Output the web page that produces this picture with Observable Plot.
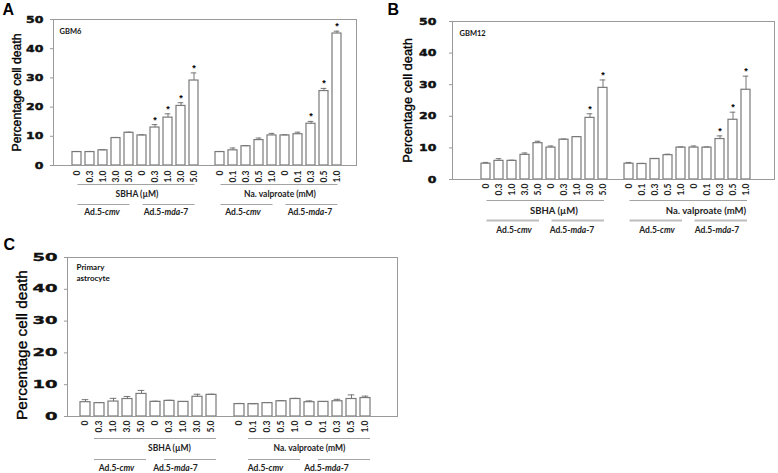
<!DOCTYPE html>
<html><head><meta charset="utf-8">
<script src="https://cdn.jsdelivr.net/npm/d3@7"></script>
<script src="https://cdn.jsdelivr.net/npm/@observablehq/plot@0.6"></script>
<style>
html,body{margin:0;padding:0;background:#fff;}
#fig{position:relative;width:778px;height:473px;overflow:hidden;background:#fff;}
.panel{position:absolute;}
</style></head><body><div id="fig"></div>
<script>
// ---- data ----
const drugs = ["SBHA (µM)", "Na. valproate (mM)"];
const vectors = ["Ad.5-cmv", "Ad.5-mda-7"];
const sbhaDoses = ["0", "0.3", "1.0", "3.0", "5.0"];
const valproateDoses = ["0", "0.1", "0.3", "0.5", "1.0"];
const yTicks = [0, 10, 20, 30, 40, 50];
const yTitle = "Percentage cell death";
// order: SBHA/cmv, SBHA/mda-7, valproate/cmv, valproate/mda-7 (5 doses each)
const gbm6Mean = [4.6, 4.6, 5.2, 9.4, 11.2, 10.3, 13.0, 16.4, 20.4, 29.1,
                  4.6, 5.2, 6.6, 8.7, 10.3, 10.3, 10.7, 14.3, 25.5, 45.2];
const gbm6Err  = [0.2, 0.2, 0.2, 0.2, 0.2, 0.2, 1.0, 1.3, 1.1, 2.6,
                  0.2, 0.8, 0.2, 0.7, 0.7, 0.2, 0.7, 0.8, 0.9, 0.8];
const gbm6Sig  = [0, 0, 0, 0, 0, 0, 1, 1, 1, 1,
                  0, 0, 0, 0, 0, 0, 0, 1, 1, 1];
const gbm12Mean = [5.0, 5.9, 5.9, 7.8, 11.5, 10.1, 12.6, 13.4, 19.5, 29.0,
                   5.0, 4.9, 6.5, 7.7, 10.1, 10.1, 10.1, 12.8, 18.9, 28.4];
const gbm12Err  = [0.4, 0.7, 0.2, 0.6, 0.6, 0.5, 0.2, 0.2, 1.3, 2.5,
                   0.4, 0.2, 0.1, 0.3, 0.2, 0.5, 0.2, 1.0, 2.4, 4.3];
const gbm12Sig  = [0, 0, 0, 0, 0, 0, 0, 0, 1, 1,
                   0, 0, 0, 0, 0, 0, 0, 1, 1, 1];
const astroMean = [4.5, 4.2, 4.7, 5.5, 7.1, 4.6, 4.9, 4.6, 6.2, 6.8,
                   3.9, 3.9, 4.2, 4.8, 5.5, 4.5, 4.6, 4.8, 5.5, 5.8];
const astroErr  = [0.8, 0.2, 1.0, 0.8, 1.1, 0.2, 0.2, 0.1, 0.8, 0.2,
                   0.2, 0.1, 0.2, 0.2, 0.2, 0.4, 0.1, 0.6, 1.3, 0.6];
const astroSig  = new Array(20).fill(0);

function buildRows(mean, err, sig) {
  const out = [];
  let k = 0;
  drugs.forEach((drug, g) => {
    const doses = g === 0 ? sbhaDoses : valproateDoses;
    vectors.forEach((vec, v) => {
      doses.forEach((dose, d) => {
        out.push({slot: g * 11 + v * 5 + d, drug, vector: vec, dose,
                  mean: mean[k], err: err[k], sig: !!sig[k]});
        k++;
      });
    });
  });
  return out;
}

// ---- layout (positions / styles) ----
const panels = [
  {data: buildRows(gbm6Mean, gbm6Err, gbm6Sig), name: "GBM6", letter: "A",
   left: 0, top: 0, width: 385, height: 235, mt: 19, mr: 29, mb: 70, ml: 53,
   po: 1.2, align: 0.55, tickFont: 12.5, tickPad: 7, squish: 0.75,
   titleSize: 12.2, titleDx: -36, titleDy: 0, letterDx: -51, letterDy: -16,
   nameDx: 6, nameDy: 7, nameSize: 7.5,
   catDy: 5, line1Dy: 19, drugDy: 29, line2Dy: 39, vecDy: 47, drugSize: 8.5, vecSize: 8.5,
   drugPos: [[5, -5], [15, 8]], vecPos: [[2, -1], [7, -2], [13, -3], [18, -1]],
   insL: 5.5, insR: 3.5, line2Color: "#8c8c8c", line2Width: 0.8},
  {data: buildRows(gbm12Mean, gbm12Err, gbm12Sig), name: "GBM12", letter: "B",
   left: 385, top: 0, width: 393, height: 240, mt: 21, mr: 4, mb: 61, ml: 67,
   po: 1.2, align: 0.55, tickFont: 12.5, tickPad: 13, squish: 0.75,
   titleSize: 12.9, titleDx: -45, titleDy: 0, letterDx: -65, letterDy: -18,
   nameDx: 7, nameDy: 7, nameSize: 7.5,
   catDy: 4, line1Dy: 21, drugDy: 31, line2Dy: 41, vecDy: 51, drugSize: 9.5, vecSize: 8.5,
   drugPos: [[5, 3], [16, 12]], vecPos: [[2, 2], [7, -5], [13, 2], [18, -3]],
   insL: 5.5, insR: 3, line2Color: "#bdbdbd", line2Width: 2},
  {data: buildRows(astroMean, astroErr, astroSig), name: "Primary\nastrocyte", letter: "C",
   left: 0, top: 235, width: 410, height: 238, mt: 22, mr: 13, mb: 57, ml: 67,
   po: 0.685, align: 0.33, tickFont: 18, tickPad: 7, squish: 0.55,
   titleSize: 15.5, titleDx: -45, titleDy: 8, letterDx: -64, letterDy: -19,
   nameDx: 9, nameDy: 5, nameSize: 8,
   catDy: 4, line1Dy: 22, drugDy: 32, line2Dy: 43, vecDy: 52, drugSize: 8.5, vecSize: 8.5,
   drugPos: [[6, 0], [16, 0]], vecPos: [[2, 3], [7, -8], [13, -2], [17, 3]],
   insL: 14, insR: 0, line2Color: "#8c8c8c", line2Width: 0.8}
];

const LAB = "Lato";
const fig = document.getElementById("fig");

function draw(c) {
  const data = c.data;
  const top = d => d.mean + d.err;
  const groupLines = [{a: 0, b: 9}, {a: 11, b: 20}];
  const vecLines = [{a: 0, b: 4}, {a: 5, b: 9}, {a: 11, b: 15}, {a: 16, b: 20}];
  const vecNames = [vectors[0], vectors[1], vectors[0], vectors[1]];
  const marks = [
    Plot.barY(data, {x: "slot", y: "mean", fill: "white", stroke: "#7a7a7a", strokeWidth: 1.2}),
    Plot.ruleX(data, {x: "slot", y1: "mean", y2: top, stroke: "#777", strokeWidth: 1}),
    Plot.tickY(data, {x: "slot", y: top, stroke: "#777", strokeWidth: 1, insetLeft: 1.7, insetRight: 1.7}),
    Plot.text(data.filter(d => d.sig), {x: "slot", y: top, text: () => "*", dy: -5,
      fontSize: 9, fontWeight: "bold", fontFamily: "Liberation Sans", fill: "#000"}),
    Plot.frame({stroke: "#9a9a9a", strokeWidth: 1}),
    // dose labels
    Plot.text(data, {x: "slot", text: "dose", frameAnchor: "bottom", rotate: -90,
      textAnchor: "end", lineAnchor: "middle", dy: c.catDy,
      fontFamily: LAB, fontWeight: "bold", fontSize: 8.5, fill: "#222"}),
    // group lines
    Plot.ruleY(groupLines, {x1: "a", x2: "b", y: () => 0, dy: c.line1Dy,
      insetLeft: c.insL, insetRight: c.insR, stroke: "#8c8c8c", strokeWidth: 0.8}),
    Plot.ruleY(vecLines, {x1: "a", x2: "b", y: () => 0, dy: c.line2Dy,
      insetLeft: c.insL, insetRight: c.insR, stroke: c.line2Color, strokeWidth: c.line2Width}),
    // y title
    Plot.text([yTitle], {frameAnchor: "left", dx: c.titleDx, dy: c.titleDy, rotate: -90,
      textAnchor: "middle", lineAnchor: "middle",
      fontFamily: "Liberation Sans", fontSize: c.titleSize, fontWeight: "normal", fill: "#000",
      stroke: "#000", strokeWidth: 0.35, ariaLabel: "ytitle"}),
    // panel letter
    Plot.text([c.letter], {frameAnchor: "top-left", dx: c.letterDx, dy: c.letterDy,
      textAnchor: "start", lineAnchor: "top", fontFamily: "Liberation Sans",
      fontSize: 16, fontWeight: "bold", fill: "#000"}),
    // cell line name
    Plot.text([c.name], {frameAnchor: "top-left", dx: c.nameDx, dy: c.nameDy,
      textAnchor: "start", lineAnchor: "top", lineHeight: 1.35, fontFamily: LAB,
      fontSize: c.nameSize, fontWeight: "bold", fill: "#111"})
  ];
  drugs.forEach((dr, i) => {
    marks.push(Plot.text([{slot: c.drugPos[i][0], label: dr}], {x: "slot", text: "label",
      frameAnchor: "bottom", dx: c.drugPos[i][1], dy: c.drugDy, lineAnchor: "middle",
      fontFamily: LAB, fontWeight: "bold", fontSize: c.drugSize, fill: "#222"}));
  });
  vecNames.forEach((vn, i) => {
    marks.push(Plot.text([{slot: c.vecPos[i][0], label: vn}], {x: "slot", text: "label",
      frameAnchor: "bottom", dx: c.vecPos[i][1], dy: c.vecDy, lineAnchor: "middle",
      fontFamily: LAB, fontWeight: "bold", fontSize: c.vecSize, fill: "#222"}));
  });

  const svg = Plot.plot({
    width: c.width, height: c.height,
    marginTop: c.mt, marginRight: c.mr, marginBottom: c.mb, marginLeft: c.ml,
    style: {fontFamily: "DejaVu Sans", fontSize: c.tickFont + "px", fontWeight: "bold",
            color: "#111", background: "transparent", overflow: "visible"},
    x: {type: "band", domain: d3.range(21), paddingInner: 0.3, paddingOuter: c.po,
        align: c.align, axis: null},
    y: {domain: [0, 50], ticks: yTicks.length - 1, tickSize: 3, tickPadding: c.tickPad,
        label: null, tickFormat: d => yTicks.includes(d) ? String(d) : ""},
    marks
  });

  // style y axis: grey tick marks, vertically compressed heavy digits
  svg.querySelectorAll('g[aria-label^="y-axis"]').forEach(g => {
    g.querySelectorAll("line,path").forEach(p => p.setAttribute("stroke", "#999"));
    g.querySelectorAll("text").forEach(t => {
      const tr = t.getAttribute("transform");
      t.setAttribute("transform", (tr ? tr + " " : "") + `scale(1,${c.squish})`);
      t.setAttribute("stroke", "#111");
      t.setAttribute("stroke-width", "0.6");
    });
  });
  // y title: slightly widen glyphs across the rotated line
  svg.querySelectorAll('g[aria-label="ytitle"] text').forEach(t => {
    const tr = t.getAttribute("transform") || "";
    t.setAttribute("transform", tr.replace("rotate(-90)", "scale(1.2,1) rotate(-90)"));
  });
  // italic gene names
  svg.querySelectorAll("text").forEach(t => {
    const m = t.textContent.match(/^(Ad\.5-)(cmv|mda)(-7)?$/);
    if (!m) return;
    t.textContent = "";
    const ns = "http://www.w3.org/2000/svg";
    const a = document.createElementNS(ns, "tspan"); a.textContent = m[1]; t.appendChild(a);
    const b = document.createElementNS(ns, "tspan"); b.textContent = m[2];
    b.setAttribute("font-style", "italic"); t.appendChild(b);
    if (m[3]) { const e = document.createElementNS(ns, "tspan"); e.textContent = m[3]; t.appendChild(e); }
  });

  const div = document.createElement("div");
  div.className = "panel";
  div.style.left = c.left + "px";
  div.style.top = c.top + "px";
  div.appendChild(svg);
  fig.appendChild(div);
}
panels.forEach(draw);
</script></body></html>
